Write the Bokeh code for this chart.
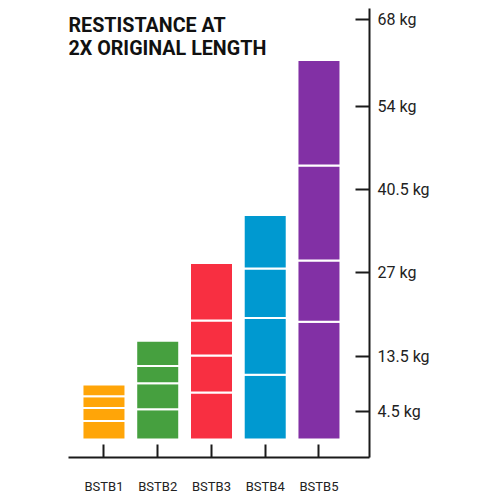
import numpy as np
from bokeh.plotting import figure
from bokeh.models import ColumnDataSource, FixedTicker, Label, Range1d
from bokeh.embed import file_html
from bokeh.resources import INLINE

# ---------------- data ----------------
categories = ["BSTB1", "BSTB2", "BSTB3", "BSTB4", "BSTB5"]
# stacked band segments (kg), bottom to top
seg1 = [3.0, 4.9, 7.6, 10.5, 19.1]
seg2 = [2.1, 4.2, 6.0, 9.2, 9.9]
seg3 = [1.9, 2.8, 5.7, 8.0, 15.4]
seg4 = [1.9, 4.1, 9.3, 8.7, 17.1]
bar_colors = ["#FFA508", "#46A03F", "#F82F41", "#0099D0", "#8230A5"]
tick_values = [4.5, 13.5, 27, 40.5, 54, 68]
tick_labels = ["4.5 kg", "13.5 kg", "27 kg", "40.5 kg", "54 kg", "68 kg"]
title_lines = ["RESTISTANCE AT", "2X ORIGINAL LENGTH"]

# ---------------- build stacked rects ----------------
segs = np.array([seg1, seg2, seg3, seg4])  # shape (levels, bars)
tops = np.cumsum(segs, axis=0)
bottoms = tops - segs
xpos = np.arange(1, len(categories) + 1)

xs, bs, ts, cs = [], [], [], []
for lvl in range(segs.shape[0]):
    for i in range(len(categories)):
        xs.append(float(xpos[i]))
        bs.append(float(bottoms[lvl, i]))
        ts.append(float(tops[lvl, i]))
        cs.append(bar_colors[i])
src = ColumnDataSource(dict(x=xs, bottom=bs, top=ts, color=cs))

x_start, x_end = 0.34, 5.94
y_start, y_end = -2.92, 69.85

p = figure(width=484, height=496,
           x_range=Range1d(x_start, x_end), y_range=Range1d(y_start, y_end),
           y_axis_location="right",
           output_backend="svg", toolbar_location=None,
           min_border_left=68, min_border_right=115,
           min_border_top=8, min_border_bottom=39)
p.outline_line_color = None
p.background_fill_color = "white"
p.border_fill_color = "white"
p.xgrid.visible = False
p.ygrid.visible = False

p.vbar(x="x", bottom="bottom", top="top", width=0.8, source=src,
       fill_color="color", line_color="white", line_width=2)

axis_color = "#1a1a1a"
# right axis
ya = p.yaxis[0]
ya.ticker = FixedTicker(ticks=tick_values)
ya.major_label_overrides = {v: l for v, l in zip(tick_values, tick_labels)}
ya.major_tick_in = 14
ya.major_tick_out = 0
ya.minor_tick_in = 0
ya.minor_tick_out = 0
ya.major_label_standoff = 8
ya.axis_line_color = axis_color
ya.axis_line_width = 2
ya.major_tick_line_color = axis_color
ya.major_tick_line_width = 2
ya.major_label_text_font = "Roboto"
ya.major_label_text_font_size = "16px"
ya.major_label_text_color = "#222222"

# bottom axis
xa = p.xaxis[0]
xa.ticker = FixedTicker(ticks=list(xpos))
xa.major_label_overrides = {int(v): c for v, c in zip(xpos, categories)}
xa.major_tick_in = 13
xa.major_tick_out = 0
xa.minor_tick_in = 0
xa.minor_tick_out = 0
xa.major_label_standoff = 21
xa.axis_line_color = axis_color
xa.axis_line_width = 2
xa.major_tick_line_color = axis_color
xa.major_tick_line_width = 2
xa.major_label_text_font = "Roboto"
xa.major_label_text_font_size = "13px"
xa.major_label_text_color = "#222222"

# title (two lines, top-left inside the frame)
title_y = [67.1, 63.42]
for txt, ty in zip(title_lines, title_y):
    p.add_layout(Label(x=x_start, y=ty, text=txt, text_font="Roboto",
                       text_font_style="bold", text_font_size="19.7px",
                       text_color="#111111", text_baseline="alphabetic",
                       text_align="left"))

open("out.html", "w").write(file_html(p, INLINE))
